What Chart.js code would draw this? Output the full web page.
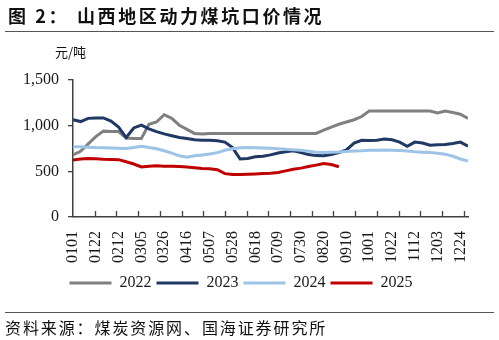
<!DOCTYPE html>
<html>
<head>
<meta charset="utf-8">
<script src="https://cdn.jsdelivr.net/npm/chart.js@4.4.1/dist/chart.umd.min.js"></script>
<style>
  body { margin: 0; background: #fff; }
  #wrap { position: relative; width: 499px; height: 340px; overflow: hidden; }
  #myChart { position: absolute; left: 0; top: 0; }
  .cjk { position: absolute; font-family: "Noto Sans CJK SC", sans-serif; color: #111; white-space: nowrap; }
  .title { top: 3px; font-size: 18px; font-weight: bold; letter-spacing: 2.6px; line-height: 24px; }
  .rule { position: absolute; left: 5px; width: 489px; height: 1px; background: #555; }
  .unit { left: 55px; top: 44px; font-size: 13px; line-height: 16px; }
  .source { left: 5px; top: 317px; font-size: 16px; letter-spacing: 1.9px; line-height: 20px; }
</style>
</head>
<body>
<div id="wrap">
  <canvas id="myChart" width="499" height="340"></canvas>
  <div class="cjk title" style="left:8px;">图 2：</div>
  <div class="cjk title" style="left:77px;">山西地区动力煤坑口价情况</div>
  <div class="rule" style="top:31px;"></div>
  <div class="cjk unit">元/吨</div>
  <div class="rule" style="top:312px;"></div>
  <div class="cjk source">资料来源：煤炭资源网、国海证券研究所</div>
</div>
<script>
// day-of-year grid, one point a week
const days = Array.from({ length: 53 }, (_, i) => i * 7);

const tickLabels = ['0101', '0122', '0212', '0305', '0326', '0416', '0507', '0528', '0618',
    '0709', '0730', '0820', '0910', '1001', '1022', '1112', '1203', '1224'];

const years = ['2022', '2023', '2024', '2025'];

const price2022 = [680, 720, 800, 880, 940, 935, 935, 865, 860, 860, 1015, 1040, 1120, 1080,
    1005, 960, 915, 910, 915, 915, 915, 915, 915, 915, 915, 915, 915, 915, 915, 915, 915, 915,
    915, 950, 985, 1015, 1040, 1065, 1100, 1160, 1160, 1160, 1160, 1160, 1160, 1160, 1160, 1160,
    1140, 1160, 1145, 1125, 1080];

const price2023 = [1065, 1045, 1080, 1085, 1085, 1050, 985, 870, 975, 1005, 965, 935, 910, 890,
    870, 860, 845, 840, 840, 835, 820, 760, 635, 640, 660, 665, 680, 700, 715, 725, 705, 685,
    672, 670, 685, 705, 735, 810, 840, 838, 840, 855, 845, 820, 775, 820, 810, 785, 790, 795,
    805, 820, 775];

const price2024 = [770, 768, 765, 760, 758, 755, 752, 750, 762, 775, 762, 748, 725, 700, 670,
    655, 670, 680, 690, 705, 730, 748, 758, 760, 758, 755, 752, 748, 742, 735, 730, 720, 710,
    705, 708, 712, 718, 722, 725, 730, 732, 733, 732, 728, 722, 715, 710, 705, 698, 688, 665,
    635, 612];

const price2025 = [625, 635, 640, 638, 632, 630, 628, 605, 580, 548, 555, 560, 556, 555, 553,
    548, 540, 532, 528, 518, 475, 465, 465, 468, 472, 476, 480, 488, 505, 522, 535, 552, 568,
    585, 575, 550];

const colors = ['rgb(128, 128, 128)', 'rgb(31, 56, 100)', 'rgb(157, 195, 230)', 'rgb(192, 0, 0)'];
const allPrices = [price2022, price2023, price2024, price2025];

const axisColor = '#404040';
const serif = "'Liberation Serif', 'Times New Roman', serif";

// x tick marks point up into the plot, every 20 days
const innerTicks = {
    id: 'innerTicks',
    afterDraw(chart) {
        const xs = chart.scales.x;
        const ctx = chart.ctx;
        ctx.save();
        ctx.strokeStyle = axisColor;
        ctx.lineWidth = 1.3;
        ctx.beginPath();
        for (let d = 20; d <= 360; d += 20) {
            const px = Math.round(xs.getPixelForValue(d)) + 0.5;
            ctx.moveTo(px, xs.top);
            ctx.lineTo(px, xs.top - 6);
        }
        ctx.stroke();
        ctx.restore();
    },
};

let myChart = document.querySelector("#myChart");

const data = {
    datasets: years.map((y, i) => ({
        label: y,
        data: allPrices[i].map((v, j) => ({ x: days[j], y: v })),
        borderColor: colors[i],
        backgroundColor: colors[i],
        borderWidth: 3,
        pointRadius: 0,
        tension: 0,
        order: 4 - i,
    })),
};

let chart = new Chart(myChart, {
    type: "line",
    data: data,
    plugins: [innerTicks],
    options: {
        responsive: false,
        animation: false,
        layout: {
            padding: { left: 14, right: 31, top: 80, bottom: 39 },
        },
        scales: {
            x: {
                type: 'linear',
                position: 'bottom',
                min: 0,
                max: 364,
                afterBuildTicks: (scale) => {
                    scale.ticks = tickLabels.map((_, i) => ({ value: i * 21 }));
                },
                afterFit: (scale) => { scale.height -= 7; },
                border: { color: axisColor, width: 1.5 },
                grid: { display: false, drawTicks: false },
                ticks: {
                    autoSkip: false,
                    minRotation: 90,
                    maxRotation: 90,
                    padding: 14,
                    color: '#1a1a1a',
                    font: { family: serif, size: 16 },
                    callback: (v) => tickLabels[v / 21],
                },
            },
            y: {
                min: 0,
                max: 1500,
                border: { color: axisColor, width: 1.5 },
                grid: {
                    drawOnChartArea: false,
                    tickLength: 5,
                    lineWidth: 1.3,
                    color: axisColor,
                },
                ticks: {
                    stepSize: 500,
                    padding: 9,
                    color: '#1a1a1a',
                    font: { family: serif, size: 16 },
                    callback: (v) => v.toLocaleString('en-US'),
                },
            },
        },
        plugins: {
            legend: {
                display: true,
                position: 'bottom',
                labels: {
                    usePointStyle: true,
                    pointStyle: 'line',
                    pointStyleWidth: 42,
                    padding: 5,
                    color: '#1a1a1a',
                    font: { family: serif, size: 16 },
                    sort: (a, b) => a.datasetIndex - b.datasetIndex,
                },
            },
            title: { display: false },
            tooltip: { enabled: false },
        },
    },
});
</script>
</body>
</html>
